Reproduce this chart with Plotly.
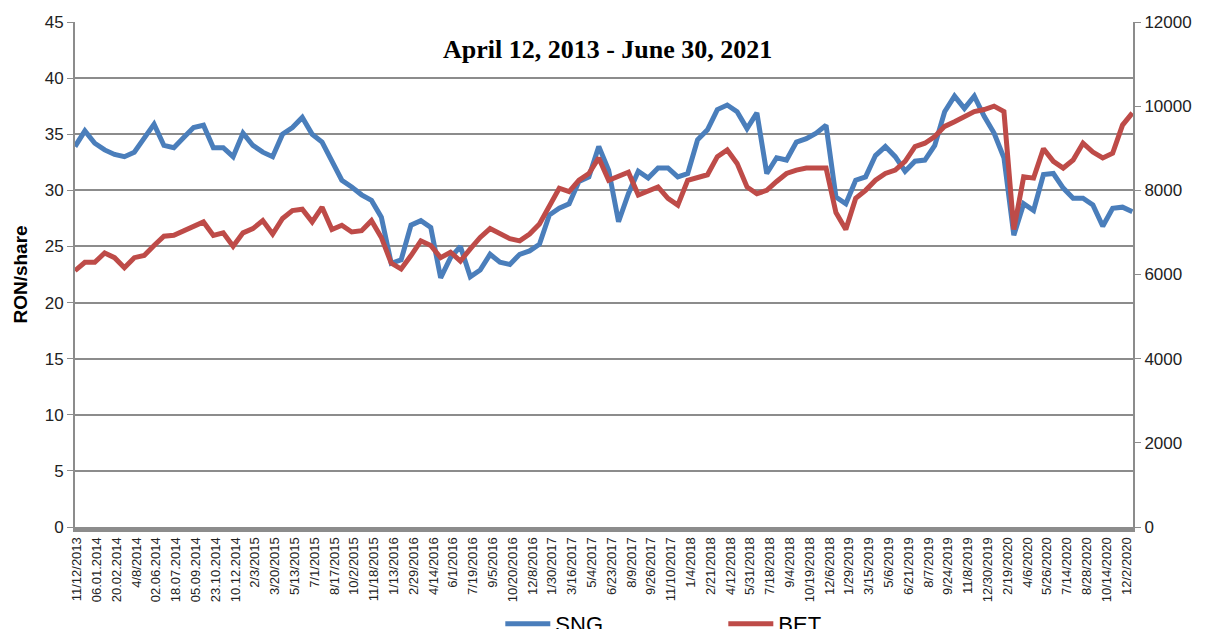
import numpy as np
import plotly.graph_objects as go

# tick labels on the category axis (as printed in the source chart)
date_labels = [
    "11/12/2013", "06.01.2014", "20.02.2014", "4/8/2014", "02.06.2014", "18.07.2014",
    "05.09.2014", "23.10.2014", "10.12.2014", "2/3/2015", "3/20/2015", "5/13/2015",
    "7/1/2015", "8/17/2015", "10/2/2015", "11/18/2015", "1/13/2016", "2/29/2016",
    "4/14/2016", "6/1/2016", "7/19/2016", "9/5/2016", "10/20/2016", "12/8/2016",
    "1/30/2017", "3/16/2017", "5/4/2017", "6/23/2017", "8/9/2017", "9/26/2017",
    "11/10/2017", "1/4/2018", "2/21/2018", "4/12/2018", "5/31/2018", "7/18/2018",
    "9/4/2018", "10/19/2018", "12/6/2018", "1/29/2019", "3/15/2019", "5/6/2019",
    "6/21/2019", "8/7/2019", "9/24/2019", "11/8/2019", "12/30/2019", "2/19/2020",
    "4/6/2020", "5/26/2020", "7/14/2020", "8/28/2020", "10/14/2020", "12/2/2020",
]

# SNG share price, RON/share
sng = [
    33.9, 35.3, 34.2, 33.6, 33.2, 33.0, 33.4, 34.7, 35.9, 34.0,
    33.8, 34.7, 35.6, 35.8, 33.8, 33.8, 33.0, 35.1, 34.0, 33.4,
    33.0, 35.0, 35.6, 36.5, 35.0, 34.3, 32.5, 30.9, 30.3, 29.6,
    29.1, 27.6, 23.5, 23.8, 26.9, 27.3, 26.7, 22.2, 24.0, 25.0,
    22.3, 22.9, 24.3, 23.6, 23.4, 24.3, 24.6, 25.2, 27.8, 28.4,
    28.8, 30.8, 31.2, 33.9, 31.8, 27.2, 29.7, 31.7, 31.1, 32.0,
    32.0, 31.2, 31.5, 34.5, 35.4, 37.2, 37.6, 37.0, 35.5, 36.9,
    31.5, 32.9, 32.7, 34.3, 34.6, 35.1, 35.8, 29.4, 28.8, 30.9,
    31.2, 33.1, 33.9, 33.0, 31.7, 32.6, 32.7, 34.0, 37.0, 38.4,
    37.3, 38.4, 36.6, 35.1, 32.9, 26.0, 28.8, 28.2, 31.4, 31.5,
    30.2, 29.3, 29.3, 28.7, 26.8, 28.4, 28.5, 28.1,
]

# BET index, points (right axis)
bet = [
    6090, 6290, 6290, 6510, 6400, 6160, 6400, 6450, 6690, 6910,
    6930, 7040, 7120, 7250, 6930, 6990, 6670, 6990, 7090, 7280,
    6960, 7330, 7520, 7550, 7250, 7600, 7070, 7170, 7010, 7040,
    7280, 6880, 6270, 6130, 6450, 6800, 6690, 6400, 6530, 6320,
    6610, 6880, 7090, 6960, 6850, 6800, 6960, 7200, 7650, 8050,
    7970, 8240, 8400, 8770, 8240, 8350, 8430, 7890, 8000, 8080,
    7810, 7650, 8240, 8320, 8370, 8800, 8960, 8640, 8080, 7920,
    8000, 8210, 8400, 8480, 8530, 8530, 8530, 7470, 7070, 7810,
    8000, 8240, 8400, 8480, 8690, 9040, 9120, 9280, 9520, 9630,
    9760, 9870, 9920, 10000, 9870, 7070, 8320, 8290, 8990, 8690,
    8530, 8720, 9120, 8910, 8770, 8880, 9550, 9840,
]

x_pos = np.linspace(-0.1, 53.3, len(sng))
x_bet = np.linspace(-0.1, 53.3, len(bet))

blue = "#4A7EBB"
red = "#BE4B48"
grid = "#8C8C8C"

fig = go.Figure()
fig.add_trace(go.Scatter(x=x_pos, y=sng, mode="lines", name="SNG",
                         line=dict(color=blue, width=5)))
fig.add_trace(go.Scatter(x=x_bet, y=bet, mode="lines", name="BET", yaxis="y2",
                         line=dict(color=red, width=5)))

# the page body has an 8px margin, so the figure is 8px smaller than the window
fig.update_layout(
    width=1209, height=621,
    margin=dict(l=67, r=84, t=14, b=102, autoexpand=False),
    paper_bgcolor="white", plot_bgcolor="white",
    title=dict(text="<b>April 12, 2013 - June 30, 2021</b>", x=0.496, xanchor="center",
               y=1 - 41 / 621, yanchor="middle",
               font=dict(family="Liberation Serif", size=26, color="black")),
    font=dict(family="Liberation Sans", color="#222"),
    xaxis=dict(range=[-0.1, 53.33], tickvals=list(range(len(date_labels))),
               ticktext=date_labels, tickangle=-90, tickfont=dict(size=13),
               showgrid=False, showline=True, linecolor=grid, linewidth=5,
               ticks="", zeroline=False, automargin=False),
    yaxis=dict(range=[0, 45], dtick=5, showgrid=True, gridcolor=grid, gridwidth=2,
               showline=True, linecolor=grid, linewidth=2, ticks="outside",
               ticklen=6, tickcolor=grid, tickfont=dict(size=17), zeroline=False,
               automargin=False,
               title=dict(text="<b>RON/share</b>", font=dict(size=19, color="black"),
                          standoff=12)),
    yaxis2=dict(range=[0, 12000], dtick=2000, overlaying="y", side="right",
                showgrid=False, showline=True, linecolor=grid, linewidth=2,
                ticks="outside", ticklen=6, tickcolor=grid, tickfont=dict(size=17),
                tickformat="d", zeroline=False, automargin=False),
    legend=dict(orientation="h", x=0.402, xanchor="left", y=-0.192, yanchor="middle",
                font=dict(size=22, color="black"), entrywidth=163, itemwidth=45,
                bgcolor="rgba(0,0,0,0)"),
)

fig.write_html("out.html")
